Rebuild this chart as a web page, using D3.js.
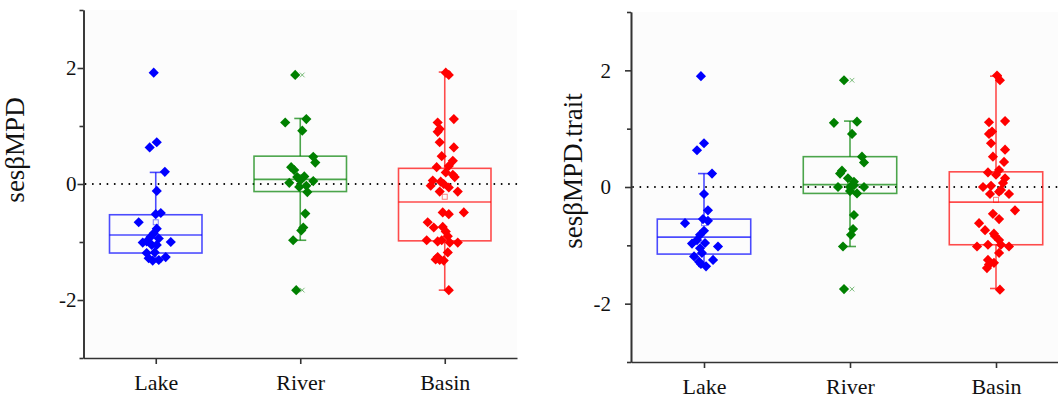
<!DOCTYPE html>
<html lang="en">
<head>
<meta charset="UTF-8">
<title>sesβMPD box plots</title>
<script src="https://cdnjs.cloudflare.com/ajax/libs/d3/7.8.5/d3.min.js"></script>
<style>
  body { margin: 0; background: #fff; }
  svg { display: block; }
  svg text { font-family: "Liberation Serif", "Times New Roman", serif !important; }
</style>
</head>
<body>
<svg id="chart" width="1058" height="402"></svg>
<script>
const categories = ["Lake", "River", "Basin"];
const yTicks = [-2, 0, 2];
const yMinorTicks = [-3, -1, 1, 3];

// sesβMPD (left panel) – values and horizontal jitter (fraction of category step)
const lakeMPD = [1.92, 0.63, 0.72, 0.21, -0.12, -0.52, -0.50, -0.66, -0.77, -0.85, -0.91, -0.94, -0.99, -1.01, -1.00, -1.05, -1.05, -1.19, -1.18, -1.26, -1.28, -1.32, -1.31];
const lakeMPDJitter = [-0.014, -0.042, 0.007, 0.063, 0.007, 0, 0.035, -0.118, 0.007, -0.014, -0.035, 0.021, -0.063, -0.09, 0.104, -0.028, 0.007, -0.063, -0.007, 0.069, -0.049, -0.021, 0.021];
const riverMPD = [1.88, 1.06, 1.12, 0.92, 0.47, 0.37, 0.29, 0.24, 0.12, 0.13, 0.02, 0.05, 0.06, -0.05, -0.03, -0.14, -0.51, -0.75, -0.80, -0.97, -1.83];
const riverMPDJitter = [-0.035, -0.104, 0.042, 0.014, 0.09, 0.104, -0.063, -0.042, -0.021, 0.028, -0.076, 0.09, 0, -0.007, 0.042, 0.049, 0.035, 0.021, 0.007, -0.049, -0.028];
const basinMPD = [1.92, 1.88, 1.12, 1.06, 0.95, 0.90, 0.72, 0.63, 0.48, 0.40, 0.29, 0.31, 0.20, 0.16, 0.12, 0.06, 0.04, 0.00, -0.03, -0.06, -0.13, -0.13, -0.49, -0.52, -0.49, -0.66, -0.75, -0.74, -0.82, -0.90, -0.97, -0.99, -1.01, -1.01, -0.97, -1.18, -1.26, -1.31, -1.32, -1.30, -1.83];
const basinMPDJitter = [0.007, 0.028, 0.063, -0.049, -0.035, -0.049, -0.035, 0.063, -0.021, 0.056, -0.056, 0.028, 0.007, 0.056, 0.069, -0.083, -0.028, -0.007, -0.097, 0.028, -0.035, 0.09, -0.014, 0.028, 0.132, -0.118, -0.076, -0.014, 0.007, 0.021, -0.125, -0.049, 0.035, 0.09, -0.021, 0.021, -0.049, -0.035, -0.007, -0.063, 0.028];

// sesβMPD.trait (right panel)
const lakeTrait = [1.90, 0.63, 0.75, 0.23, -0.12, -0.40, -0.55, -0.58, -0.62, -0.75, -0.82, -0.91, -0.96, -0.97, -1.02, -1.05, -1.19, -1.13, -1.25, -1.28, -1.36, -1.32];
const lakeTraitJitter = [-0.021, -0.048, 0, 0.055, 0, 0.027, -0.007, 0.027, -0.13, 0, -0.027, -0.048, 0.007, -0.082, 0.096, -0.027, -0.068, -0.014, 0.062, -0.034, 0.014, -0.021];
const riverTrait = [1.83, 1.10, 1.12, 0.91, 0.52, 0.42, 0.28, 0.23, 0.15, 0.09, 0.00, 0.00, 0.00, -0.07, -0.11, 0.03, -0.48, -0.72, -0.82, -1.02, -1.75];
const riverTraitJitter = [-0.041, -0.11, 0.048, 0.014, 0.082, 0.096, -0.055, -0.068, -0.014, 0.027, -0.082, 0.096, 0, 0, 0.048, 0.027, 0.027, 0.021, 0.007, -0.048, -0.041];
const basinTrait = [1.91, 1.83, 1.13, 1.11, 0.95, 0.91, 0.75, 0.64, 0.52, 0.43, 0.25, 0.29, 0.21, 0.15, 0.07, 0.00, 0.02, -0.05, -0.12, -0.12, -0.08, -0.40, -0.46, -0.55, -0.62, -0.74, -0.84, -0.91, -1.02, -0.99, -0.99, -1.02, -1.13, -1.25, -1.33, -1.30, -1.39, -1.76, -0.80];
const basinTraitJitter = [0.007, 0.027, 0.062, -0.048, -0.027, -0.048, -0.034, 0.062, -0.021, 0.055, -0.055, 0.021, 0, 0.062, 0.048, -0.089, -0.034, 0.034, -0.041, 0.089, 0.021, 0.13, -0.021, 0.021, -0.116, -0.075, -0.007, 0.021, -0.13, -0.055, 0.034, 0.089, 0.021, -0.055, -0.048, -0.014, -0.062, 0.027, -0.014];

// box statistics per category (Lake, River, Basin)
const whiskerLowMPD  = [-1.34, -0.97, -1.83];
const q1MPD          = [-1.19, -0.13, -0.98];
const medianMPD      = [-0.88, 0.08, -0.31];
const q3MPD          = [-0.53, 0.48, 0.27];
const whiskerHighMPD = [0.20, 1.13, 1.93];
const meanMPD        = [-0.66, 0.12, -0.22];

const whiskerLowTrait  = [-1.36, -1.02, -1.74];
const q1Trait          = [-1.15, -0.11, -0.99];
const medianTrait      = [-0.86, 0.04, -0.26];
const q3Trait          = [-0.55, 0.52, 0.26];
const whiskerHighTrait = [0.23, 1.13, 1.90];
const meanTrait        = [-0.62, 0.10, -0.22];

const colors = ["#0000ff", "#008000", "#ff0000"];
const showExtremeMarks = [false, true, false];

const svg = d3.select("#chart");

function drawPanel(p) {
  const g = svg.append("g");
  const x = d3.scalePoint().domain(categories).range([p.left, p.right]).padding(0.5);
  const y = d3.scaleLinear().domain([-3, 3]).range([p.bottom, p.top]);
  const step = x.step();
  const boxW = step * 0.64;
  const capW = 12;

  g.append("rect")
    .attr("x", p.left).attr("y", p.top)
    .attr("width", p.right - p.left).attr("height", p.bottom - p.top)
    .attr("fill", "#fcfcfc");

  // dotted zero line
  g.append("line")
    .attr("x1", p.left + 2).attr("x2", p.right)
    .attr("y1", y(0)).attr("y2", y(0))
    .attr("stroke", "#000").attr("stroke-width", 1.8)
    .attr("stroke-linecap", "round")
    .attr("stroke-dasharray", "0.1,7.2");

  categories.forEach((c, i) => {
    const cx = x(c);
    const col = colors[i];
    const vals = p.values[i];
    const bg = g.append("g")
      .attr("stroke", col).attr("stroke-opacity", 0.7)
      .attr("stroke-width", 1.6).attr("fill", "none");

    // whiskers
    bg.append("line").attr("x1", cx).attr("x2", cx)
      .attr("y1", y(p.q3[i])).attr("y2", y(p.high[i]));
    bg.append("line").attr("x1", cx).attr("x2", cx)
      .attr("y1", y(p.q1[i])).attr("y2", y(p.low[i]));
    bg.append("line").attr("x1", cx - capW / 2).attr("x2", cx + capW / 2)
      .attr("y1", y(p.high[i])).attr("y2", y(p.high[i]));
    bg.append("line").attr("x1", cx - capW / 2).attr("x2", cx + capW / 2)
      .attr("y1", y(p.low[i])).attr("y2", y(p.low[i]));

    // box and median
    bg.append("rect")
      .attr("x", cx - boxW / 2).attr("y", y(p.q3[i]))
      .attr("width", boxW).attr("height", y(p.q1[i]) - y(p.q3[i]));
    bg.append("line")
      .attr("x1", cx - boxW / 2).attr("x2", cx + boxW / 2)
      .attr("y1", y(p.median[i])).attr("y2", y(p.median[i]));

    // mean marker
    bg.append("rect")
      .attr("x", cx - 2.5).attr("y", y(p.mean[i]) - 2.5)
      .attr("width", 5).attr("height", 5)
      .attr("stroke-width", 1).attr("stroke-opacity", 0.5);

    // min / max crosses
    if (showExtremeMarks[i]) {
      [d3.max(vals), d3.min(vals)].forEach(m => {
        bg.append("path")
          .attr("d", d3.symbol(d3.symbolX, 16)())
          .attr("transform", `translate(${cx + 2},${y(m)})`)
          .attr("stroke-width", 1).attr("stroke-opacity", 0.5);
      });
    }

    // data points
    g.append("g").selectAll("path")
      .data(vals.map((v, j) => ({ v, jit: p.jitter[i][j] })))
      .join("path")
      .attr("d", d3.symbol(d3.symbolDiamond2, 66)())
      .attr("transform", d => `translate(${cx + d.jit * step},${y(d.v)})`)
      .attr("fill", col);
  });

  // axes
  const axisStyle = sel => {
    sel.attr("font-family", null);
    sel.selectAll("path, line").attr("stroke", "#333").attr("stroke-width", 1.6);
    sel.selectAll("text").attr("fill", "#111").attr("font-size", 21);
  };

  g.append("g")
    .attr("transform", `translate(${p.left},0)`)
    .call(d3.axisLeft(y).tickValues(yMinorTicks).tickSize(4).tickSizeOuter(0).tickFormat(""))
    .call(axisStyle);

  g.append("g")
    .attr("transform", `translate(${p.left},0)`)
    .call(d3.axisLeft(y).tickValues(yTicks).tickSize(6).tickSizeOuter(0)
      .tickPadding(p.tickPad).tickFormat(d => String(d)))
    .call(axisStyle);

  g.append("g")
    .attr("transform", `translate(0,${p.bottom})`)
    .call(d3.axisBottom(x).tickSize(6).tickSizeOuter(0).tickPadding(10))
    .call(axisStyle)
    .selectAll("text").attr("font-size", 22);

  g.append("text")
    .attr("transform", `translate(${p.labelX},${p.labelY}) rotate(-90)`)
    .attr("text-anchor", "middle")
    .attr("font-size", 27)
    .attr("fill", "#111")
    .text(p.label);
}

drawPanel({
  left: 83.5, right: 517, top: 10, bottom: 358,
  tickPad: 1, labelX: 24, labelY: 150, label: "sesβMPD",
  values: [lakeMPD, riverMPD, basinMPD],
  jitter: [lakeMPDJitter, riverMPDJitter, basinMPDJitter],
  low: whiskerLowMPD, q1: q1MPD, median: medianMPD, q3: q3MPD,
  high: whiskerHighMPD, mean: meanMPD
});

drawPanel({
  left: 631, right: 1069, top: 12, bottom: 362,
  tickPad: 14, labelX: 582, labelY: 171, label: "sesβMPD.trait",
  values: [lakeTrait, riverTrait, basinTrait],
  jitter: [lakeTraitJitter, riverTraitJitter, basinTraitJitter],
  low: whiskerLowTrait, q1: q1Trait, median: medianTrait, q3: q3Trait,
  high: whiskerHighTrait, mean: meanTrait
});
</script>
</body>
</html>
